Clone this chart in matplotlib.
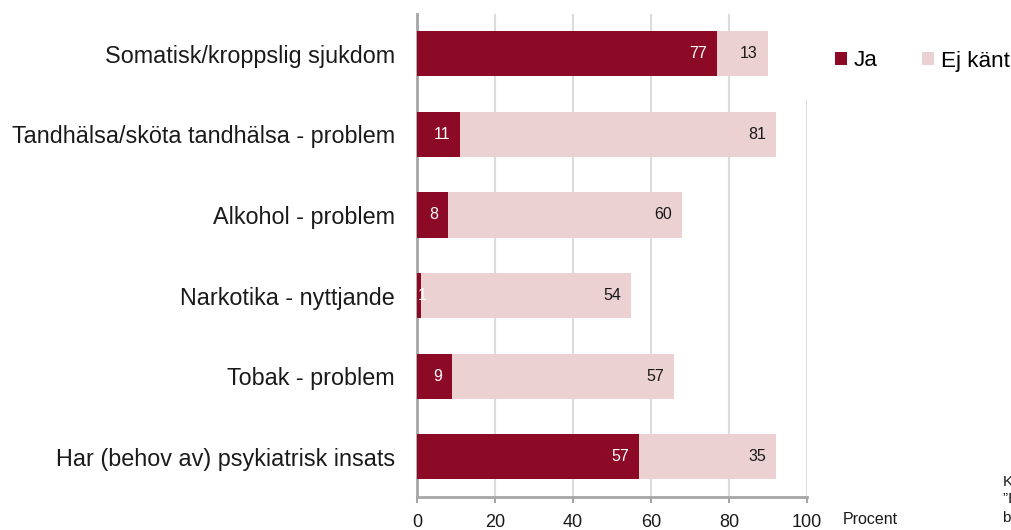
import matplotlib
matplotlib.use("Agg")
import matplotlib.pyplot as plt
from matplotlib.patches import Rectangle, Patch

categories = [
    "Somatisk/kroppslig sjukdom",
    "Tandhälsa/sköta tandhälsa - problem",
    "Alkohol - problem",
    "Narkotika - nyttjande",
    "Tobak - problem",
    "Har (behov av) psykiatrisk insats",
]
ja = [77, 11, 8, 1, 9, 57]
ej_kant = [13, 81, 60, 54, 57, 35]
xticks = [0, 20, 40, 60, 80, 100]
series_names = ["Ja", "Ej känt"]

c_ja = "#8c0a26"
c_ej = "#ebd1d2"
grid_c = "#dcdcdc"
spine_c = "#a6a6a6"

plt.rcParams["font.family"] = ["Liberation Sans", "DejaVu Sans"]

W, H = 1011, 530
fig = plt.figure(figsize=(W / 100, H / 100), dpi=100)
ax = fig.add_axes([417 / W, 1 - 497 / H, (807 - 417) / W, (497 - 13.5) / H])

ypos = list(range(len(categories)))
bh = 0.56
ax.barh(ypos, ja, height=bh, color=c_ja, zorder=3)
ax.barh(ypos, ej_kant, left=ja, height=bh, color=c_ej, zorder=3)

px_unit = 100 / (807 - 417)
pad = 10 * px_unit
for y, a, b in zip(ypos, ja, ej_kant):
    if a < 3:
        ax.text(0.2, y, str(a), ha="left", va="center", color="white", fontsize=11.5, zorder=4)
    else:
        ax.text(a - pad, y, str(a), ha="right", va="center", color="white", fontsize=11.5, zorder=4)
    ax.text(a + b - pad, y, str(b), ha="right", va="center", color="#1a1a1a", fontsize=11.5, zorder=4)

ax.set_xlim(0, 100)
ax.set_ylim(len(categories) - 0.5, -0.5)
ax.set_xticks(xticks)
ax.set_xticklabels([str(t) for t in xticks], fontsize=13, color="#1a1a1a")
ax.set_yticks(ypos)
ax.set_yticklabels(categories, fontsize=16.8, color="#1a1a1a")
ax.tick_params(axis="y", length=0, pad=16)
ax.tick_params(axis="x", length=4, width=1.5, color=spine_c, pad=8)
ax.xaxis.grid(True, color=grid_c, linewidth=1.5, zorder=0)
ax.set_axisbelow(True)
for s in ["top", "right"]:
    ax.spines[s].set_visible(False)
for s in ["left", "bottom"]:
    ax.spines[s].set_color(spine_c)
    ax.spines[s].set_linewidth(2)

fig.text(843 / W, 1 - 520 / H, "Procent", fontsize=11.5, color="#1a1a1a", va="center", ha="left")

# white legend area
fig.patches.append(Rectangle((805 / W, 1 - 100 / H), 1, 100 / H, transform=fig.transFigure,
                             facecolor="white", edgecolor="none", zorder=5))
handles = [Patch(facecolor=c_ja, edgecolor="none"), Patch(facecolor=c_ej, edgecolor="none")]
leg = fig.legend(handles, series_names, loc="center left", bbox_to_anchor=(835 / W, 1 - 61 / H),
                 ncol=2, frameon=False, fontsize=16.2, handlelength=0.54, handleheight=0.54,
                 handletextpad=0.3, columnspacing=1.95, borderpad=0, borderaxespad=0)
leg.set_zorder(6)

fig.text(1003 / W, 1 - 482 / H, "Kommentar:", fontsize=11, color="#1a1a1a", va="center", ha="left")
fig.text(1003 / W, 1 - 499 / H, "”Ej känt” ...", fontsize=11, color="#1a1a1a", va="center", ha="left")
fig.text(1003 / W, 1 - 518 / H, "bedömning ...", fontsize=11, color="#1a1a1a", va="center", ha="left")

fig.savefig("out.png", dpi=100)
